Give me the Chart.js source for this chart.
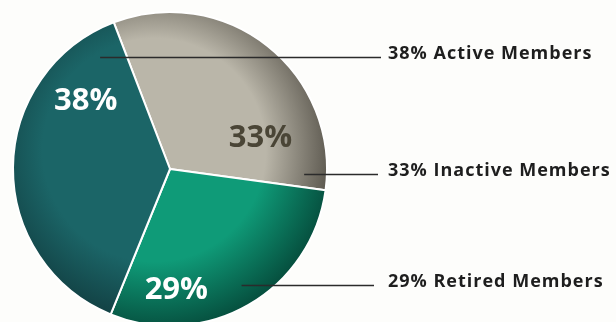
<!DOCTYPE html>
<html><head><meta charset="utf-8">
<script src="https://cdn.jsdelivr.net/npm/chart.js@4"></script>
<style>
html,body{margin:0;padding:0;background:#fdfdfb;overflow:hidden}
#wrap{position:relative;width:616px;height:340px}
</style></head>
<body><div id="wrap"><canvas id="c"></canvas></div>
<script>
// Data
const categories = ['Inactive Members', 'Retired Members', 'Active Members'];
const percentages = [33, 29, 38];
const sliceLabels = ['33%', '29%', '38%'];

// Styles
const innerColors = ['#bab6a9', '#0f9b78', '#1b6567'];
const edgeColors  = ['#57534a', '#06503f', '#113b3e'];
const textColors  = ['#4a4536', '#ffffff', '#ffffff'];
// label placement (degrees clockwise from 12 o'clock, fraction of radius)
const inLabelPlace = [{a: 71, r: 0.61}, {a: 177, r: 0.77}, {a: 309, r: 0.69}];
const leaderPlace  = [{a: 92, r: 0.855}, {a: 148.4, r: 0.87}, {a: 328, r: 0.84}];
const leaderEndX   = [378, 374, 381];
const legendX = 388;

function polar(el, p) {
  const ang = (p.a - 90) * Math.PI / 180;
  return {x: el.x + Math.cos(ang) * el.outerRadius * p.r, y: el.y + Math.sin(ang) * el.outerRadius * p.r};
}

const labelPlugin = {
  id: 'labels',
  afterDatasetsDraw(chart) {
    const ctx = chart.ctx;
    const meta = chart.getDatasetMeta(0);
    meta.data.forEach((el, i) => {
      const p = polar(el, inLabelPlace[i]);
      ctx.save();
      ctx.font = 'bold 31px "Open Sans"';
      ctx.fillStyle = textColors[i];
      ctx.textAlign = 'center';
      ctx.textBaseline = 'middle';
      ctx.fillText(sliceLabels[i], p.x, p.y);
      const s = polar(el, leaderPlace[i]);
      const y = Math.round(s.y) + 0.5;
      ctx.strokeStyle = '#2b2b2b';
      ctx.lineWidth = 1.3;
      ctx.beginPath();
      ctx.moveTo(s.x, y);
      ctx.lineTo(leaderEndX[i], y);
      ctx.stroke();
      ctx.font = 'bold 18px "Open Sans"';
      ctx.letterSpacing = '1px';
      ctx.fillStyle = '#1e1e1e';
      ctx.textAlign = 'left';
      ctx.fillText(percentages[i] + '% ' + categories[i], legendX, y - 4);
      ctx.restore();
    });
  }
};

function grad(i) {
  return (c) => {
    const chart = c.chart;
    const ca = chart.chartArea;
    if (!ca) return innerColors[i];
    const cx = (ca.left + ca.right) / 2, cy = (ca.top + ca.bottom) / 2;
    const R = Math.min(ca.right - ca.left, ca.bottom - ca.top) / 2;
    const g = chart.ctx.createRadialGradient(cx - R * 0.1, cy - R * 0.12, 0, cx - R * 0.1, cy - R * 0.12, R * 1.14);
    g.addColorStop(0, innerColors[i]);
    g.addColorStop(0.62, innerColors[i]);
    g.addColorStop(1, edgeColors[i]);
    return g;
  };
}

new Chart(document.getElementById('c'), {
  type: 'pie',
  data: {
    labels: categories,
    datasets: [{
      data: percentages,
      backgroundColor: (c) => grad(c.dataIndex)(c),
      borderColor: '#ffffff',
      borderWidth: 2
    }]
  },
  options: {
    responsive: true,
    maintainAspectRatio: false,
    animation: false,
    rotation: -21,
    layout: {padding: {left: 12, right: 288, top: 11, bottom: 13}},
    plugins: {legend: {display: false}, tooltip: {enabled: false}}
  },
  plugins: [labelPlugin]
});
</script>
</body></html>
